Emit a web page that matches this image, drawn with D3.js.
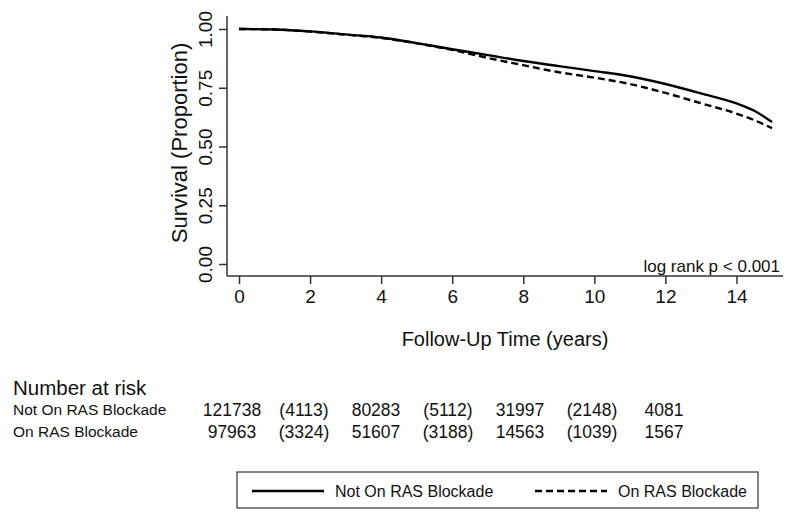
<!DOCTYPE html>
<html>
<head>
<meta charset="utf-8">
<script src="https://cdn.jsdelivr.net/npm/d3@7"></script>
<style>
  body { margin: 0; background: #fff; }
  svg { display: block; font-family: "Liberation Sans", Arial, sans-serif; }
</style>
</head>
<body>
<svg width="788" height="512"></svg>
<script>
// ==================================
// Data
// ==================================
const times = [0, 1, 2, 3, 4, 5, 6, 7, 8, 9, 10, 11, 12, 13, 14, 14.5, 15];
const survNotOn = [1.000, 0.998, 0.990, 0.977, 0.964, 0.940, 0.914, 0.889, 0.864, 0.842, 0.821, 0.799, 0.766, 0.726, 0.683, 0.652, 0.604];
const survOn    = [1.000, 0.998, 0.989, 0.976, 0.962, 0.939, 0.911, 0.877, 0.846, 0.816, 0.793, 0.766, 0.728, 0.684, 0.640, 0.612, 0.578];

const groups = ["Not On RAS Blockade", "On RAS Blockade"];
const riskNotOn = ["121738", "(4113)", "80283", "(5112)", "31997", "(2148)", "4081"];
const riskOn    = ["97963", "(3324)", "51607", "(3188)", "14563", "(1039)", "1567"];

const xTicks = [0, 2, 4, 6, 8, 10, 12, 14];
const yTicks = [0, 0.25, 0.5, 0.75, 1];

// ==================================
// Setting the stage
// ==================================
const svg = d3.select("svg");
const plot = {left: 227, right: 783, top: 16, bottom: 276};

const x = d3.scaleLinear().domain([0, 14]).range([239, 736.5]);
const y = d3.scaleLinear().domain([0, 1]).range([264, 29]);

// axis lines span the whole plot region
svg.append("line")
  .attr("x1", plot.left).attr("x2", plot.left)
  .attr("y1", plot.top).attr("y2", plot.bottom)
  .attr("stroke", "#333").attr("stroke-width", 1.5);
svg.append("line")
  .attr("x1", plot.left).attr("x2", plot.right)
  .attr("y1", plot.bottom).attr("y2", plot.bottom)
  .attr("stroke", "#333").attr("stroke-width", 1.5);

// x axis
const xAxis = svg.append("g")
  .attr("transform", `translate(0, ${plot.bottom})`)
  .call(d3.axisBottom(x).tickValues(xTicks).tickSize(8).tickPadding(6).tickFormat(d3.format("d")));
xAxis.select(".domain").remove();
xAxis.selectAll(".tick line").attr("stroke", "#333").attr("stroke-width", 1.5);
xAxis.selectAll(".tick text")
  .attr("font-family", "Liberation Sans, Arial, sans-serif")
  .attr("font-size", 19).attr("fill", "#111");

// y axis, labels turned like Stata does
const yAxis = svg.append("g")
  .attr("transform", `translate(${plot.left}, 0)`)
  .call(d3.axisLeft(y).tickValues(yTicks).tickSize(8).tickFormat(d3.format(".2f")));
yAxis.select(".domain").remove();
yAxis.selectAll(".tick line").attr("stroke", "#333").attr("stroke-width", 1.5);
yAxis.selectAll(".tick text")
  .attr("x", null).attr("dy", null)
  .attr("text-anchor", "middle")
  .attr("transform", "translate(-15, 0) rotate(-90)")
  .attr("font-family", "Liberation Sans, Arial, sans-serif")
  .attr("font-size", 19).attr("fill", "#111");

// titles
svg.append("text")
  .attr("x", (plot.left + plot.right) / 2).attr("y", 346)
  .attr("text-anchor", "middle").attr("font-size", 20).attr("fill", "#111")
  .text("Follow-Up Time (years)");
svg.append("text")
  .attr("transform", `translate(187, ${(plot.top + plot.bottom) / 2 - 3}) rotate(-90)`)
  .attr("text-anchor", "middle").attr("font-size", 22).attr("fill", "#111")
  .text("Survival (Proportion)");
svg.append("text")
  .attr("x", 780).attr("y", 272)
  .attr("text-anchor", "end").attr("font-size", 17).attr("fill", "#111")
  .text("log rank p < 0.001");

// ==================================
// Drawing the curves
// ==================================
const line = d3.line()
  .x((d, i) => x(times[i]))
  .y(d => y(d))
  .curve(d3.curveMonotoneX);

svg.append("path")
  .datum(survNotOn)
  .attr("d", line)
  .attr("fill", "none").attr("stroke", "#000").attr("stroke-width", 2.4);
svg.append("path")
  .datum(survOn)
  .attr("d", line)
  .attr("fill", "none").attr("stroke", "#000").attr("stroke-width", 2.4)
  .attr("stroke-dasharray", "7,4");

// ==================================
// Number at risk table
// ==================================
svg.append("text")
  .attr("x", 13).attr("y", 395)
  .attr("font-size", 20.5).attr("fill", "#111")
  .text("Number at risk");

const rowY = d3.scaleOrdinal().domain(groups).range([416, 438]);
const colX = d3.scalePoint().domain(d3.range(riskNotOn.length)).range([232, 664]);

svg.selectAll(".rowlab")
  .data(groups)
  .enter().append("text")
  .attr("class", "rowlab")
  .attr("x", 13).attr("y", d => rowY(d) - 1)
  .attr("font-size", 15.5).attr("fill", "#111")
  .text(d => d);

[riskNotOn, riskOn].forEach((row, r) => {
  svg.selectAll(".risk" + r)
    .data(row)
    .enter().append("text")
    .attr("class", "risk" + r)
    .attr("x", (d, i) => colX(i))
    .attr("y", rowY(groups[r]))
    .attr("text-anchor", "middle")
    .attr("font-size", 17.5).attr("fill", "#111")
    .text(d => d);
});

// ==================================
// Legend
// ==================================
const legend = svg.append("g");
legend.append("rect")
  .attr("x", 237).attr("y", 472).attr("width", 521).attr("height", 36)
  .attr("fill", "#fff").attr("stroke", "#333").attr("stroke-width", 1.2);

const legItems = [
  {label: groups[0], dash: null, x0: 252},
  {label: groups[1], dash: "7,4", x0: 535}
];
legItems.forEach(d => {
  legend.append("line")
    .attr("x1", d.x0).attr("x2", d.x0 + 72)
    .attr("y1", 491).attr("y2", 491)
    .attr("stroke", "#000").attr("stroke-width", 2.4)
    .attr("stroke-dasharray", d.dash);
  legend.append("text")
    .attr("x", d.x0 + 83).attr("y", 497)
    .attr("font-size", 16).attr("fill", "#111")
    .text(d.label);
});
</script>
</body>
</html>
